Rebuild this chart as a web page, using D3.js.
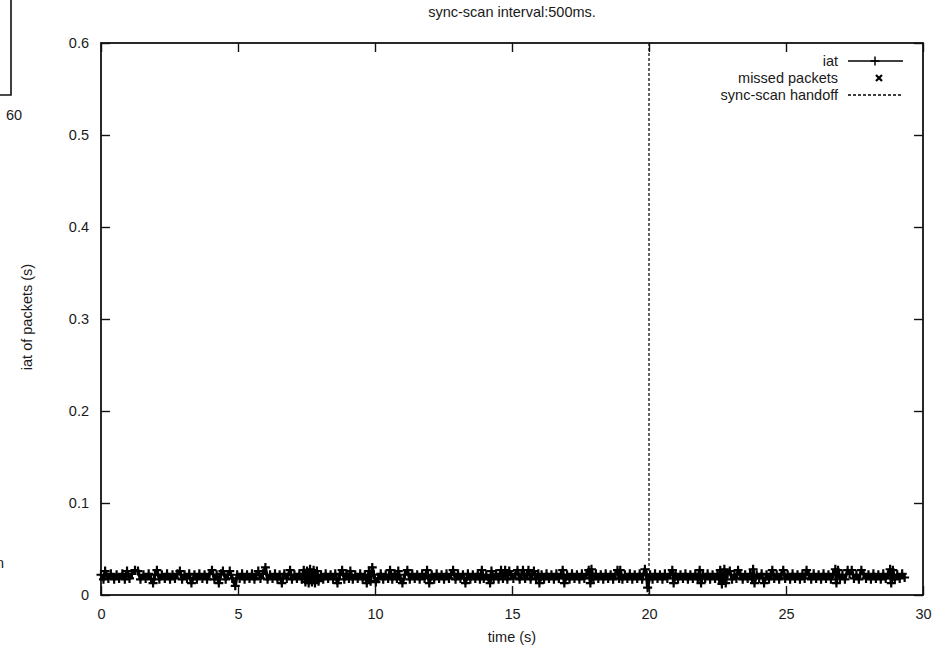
<!DOCTYPE html>
<html>
<head>
<meta charset="utf-8">
<script src="https://cdn.jsdelivr.net/npm/d3@7/dist/d3.min.js"></script>
<style>
  body { margin: 0; background: #fff; }
  text { font-family: "Liberation Sans", Arial, sans-serif; fill: #1a1a1a; }
</style>
</head>
<body>
<div id="chart"></div>
<script>
// packet arrival times (s) and inter-arrival times (ms)
const times = [
  0, 0.09, 0.15, 0.27, 0.36, 0.48, 0.57, 0.66, 0.78, 0.87, 0.95,
  1.04, 1.13, 1.24, 1.35, 1.44, 1.55, 1.63, 1.74, 1.83, 1.90, 1.97,
  2.04, 2.13, 2.22, 2.33, 2.41, 2.52, 2.61, 2.70, 2.79, 2.88, 2.96,
  3.05, 3.14, 3.22, 3.30, 3.41, 3.50, 3.59, 3.70, 3.78, 3.87, 3.96,
  4.05, 4.14, 4.22, 4.30, 4.38, 4.45, 4.55, 4.63, 4.70, 4.79, 4.90, 4.97,
  5.06, 5.15, 5.24, 5.33, 5.42, 5.51, 5.60, 5.67, 5.74, 5.82, 5.91,
  6.00, 6.08, 6.17, 6.26, 6.35, 6.44, 6.52, 6.60, 6.69, 6.78, 6.90, 6.97,
  7.06, 7.15, 7.24, 7.33, 7.40, 7.46, 7.52, 7.58, 7.63, 7.70, 7.76, 7.81, 7.88, 7.94,
  8.03, 8.11, 8.20, 8.29, 8.38, 8.47, 8.55, 8.63, 8.72, 8.80, 8.88, 8.96,
  9.05, 9.10, 9.19, 9.28, 9.37, 9.46, 9.55, 9.63, 9.70, 9.78, 9.84, 9.90, 9.96,
  10.03, 10.12, 10.21, 10.30, 10.39, 10.48, 10.55, 10.63, 10.72, 10.80, 10.85, 10.93,
  11.00, 11.09, 11.18, 11.27, 11.36, 11.45, 11.54, 11.63, 11.72, 11.81, 11.90, 11.98,
  12.07, 12.16, 12.25, 12.34, 12.43, 12.52, 12.61, 12.70, 12.78, 12.85, 12.94,
  13.03, 13.12, 13.21, 13.30, 13.39, 13.48, 13.57, 13.66, 13.75, 13.83, 13.90, 13.97,
  14.06, 14.15, 14.20, 14.25, 14.33, 14.42, 14.51, 14.60, 14.67, 14.75, 14.83, 14.90, 14.97,
  15.05, 15.13, 15.20, 15.28, 15.35, 15.40, 15.48, 15.55, 15.60, 15.68, 15.74, 15.80, 15.88, 15.96,
  16.00, 16.08, 16.17, 16.26, 16.35, 16.44, 16.53, 16.62, 16.71, 16.79, 16.85, 16.91,
  17.01, 17.10, 17.19, 17.28, 17.37, 17.46, 17.55, 17.64, 17.72, 17.80, 17.86, 17.90, 17.97,
  18.06, 18.15, 18.24, 18.33, 18.42, 18.51, 18.60, 18.69, 18.78, 18.85, 18.91, 18.95,
  19.03, 19.12, 19.21, 19.30, 19.39, 19.48, 19.57, 19.66, 19.75, 19.85, 19.91, 19.95,
  20.04, 20.13, 20.22, 20.31, 20.40, 20.49, 20.58, 20.67, 20.76, 20.85, 20.90, 20.97,
  21.06, 21.15, 21.24, 21.33, 21.42, 21.51, 21.60, 21.69, 21.78, 21.85, 21.90, 21.97,
  22.05, 22.14, 22.23, 22.32, 22.41, 22.50, 22.56, 22.60, 22.66, 22.72, 22.75, 22.80, 22.86, 22.95,
  23.03, 23.12, 23.19, 23.25, 23.33, 23.42, 23.51, 23.60, 23.69, 23.76, 23.80, 23.85, 23.93,
  24.02, 24.11, 24.20, 24.29, 24.38, 24.45, 24.50, 24.57, 24.66, 24.75, 24.84, 24.90, 24.97,
  25.06, 25.15, 25.24, 25.33, 25.42, 25.51, 25.60, 25.68, 25.75, 25.83, 25.92,
  26.01, 26.10, 26.19, 26.28, 26.37, 26.46, 26.55, 26.64, 26.72, 26.80, 26.84, 26.90, 26.97,
  27.06, 27.15, 27.25, 27.32, 27.40, 27.48, 27.57, 27.66, 27.75, 27.83, 27.92,
  28.01, 28.10, 28.19, 28.28, 28.37, 28.46, 28.55, 28.64, 28.72, 28.80, 28.84, 28.90, 28.97,
  29.06, 29.15, 29.24, 29.33
];

const iatMs = [
  22, 17, 26, 18, 23, 17, 22, 18, 23, 17, 26,
  18, 23, 27, 26, 17, 22, 18, 23, 17, 13, 22,
  27, 17, 22, 18, 23, 17, 22, 18, 23, 26, 17,
  22, 18, 23, 13, 22, 17, 23, 18, 22, 17, 23,
  27, 17, 22, 13, 23, 26, 17, 22, 26, 18, 10, 22,
  18, 23, 17, 22, 18, 23, 17, 22, 26, 18, 23,
  30, 17, 22, 18, 23, 17, 22, 13, 23, 18, 27, 17,
  22, 18, 23, 17, 27, 14, 26, 13, 28, 14, 27, 13, 26, 15,
  22, 17, 23, 18, 22, 17, 23, 13, 22, 27, 17, 23,
  18, 26, 17, 22, 18, 23, 17, 22, 13, 26, 15, 30, 22,
  14, 18, 23, 17, 22, 18, 27, 17, 23, 18, 26, 17,
  13, 22, 27, 17, 23, 18, 22, 17, 23, 18, 27, 13,
  22, 17, 23, 18, 22, 17, 23, 18, 22, 27, 17,
  23, 18, 22, 13, 23, 17, 22, 18, 23, 17, 27, 18,
  22, 17, 13, 26, 18, 23, 17, 27, 18, 27, 17, 26, 22,
  18, 23, 27, 17, 22, 27, 18, 23, 27, 17, 22, 26, 18, 23,
  13, 22, 17, 23, 18, 22, 17, 23, 18, 22, 27, 13,
  22, 17, 23, 18, 22, 17, 23, 18, 22, 27, 13, 28, 17,
  23, 18, 22, 17, 23, 18, 22, 17, 23, 27, 18, 27,
  17, 22, 18, 23, 17, 22, 18, 23, 17, 28, 22, 8,
  22, 17, 23, 18, 22, 17, 23, 18, 22, 27, 13, 23,
  17, 22, 18, 23, 17, 22, 18, 23, 17, 27, 13, 22,
  18, 23, 17, 22, 18, 23, 17, 27, 12, 22, 28, 13, 23, 26,
  17, 22, 18, 27, 23, 17, 22, 18, 23, 17, 28, 13, 22,
  18, 23, 13, 22, 17, 23, 27, 18, 22, 17, 23, 27, 18,
  22, 17, 23, 18, 22, 17, 23, 18, 27, 22, 17,
  23, 18, 22, 17, 23, 18, 22, 17, 23, 28, 13, 27, 18,
  22, 17, 27, 23, 27, 18, 22, 17, 27, 23, 18,
  22, 17, 23, 18, 22, 17, 23, 18, 22, 28, 13, 27, 17,
  22, 18, 23, 19
];

const handoffTimes = [20];
const xTicks = [0, 5, 10, 15, 20, 25, 30];
const yTicks = [0, 0.1, 0.2, 0.3, 0.4, 0.5, 0.6];
const legendItems = ['iat', 'missed packets', 'sync-scan handoff'];

const width = 947, height = 652;
const margin = {top: 43, right: 24, bottom: 57, left: 101};
const innerWidth = width - margin.left - margin.right,
      innerHeight = height - margin.top - margin.bottom;

const data = times.map((t, i) => ({x: t, y: iatMs[i] / 1000}));

const fontSize = '14.5px';

const svg = d3.select('#chart').append('svg')
    .attr('width', width)
    .attr('height', height);

// ###
// LEFTOVERS OF THE NEIGHBOURING FIGURE
// ###
svg.append('path')
    .attr('d', 'M11,0V95H0')
    .attr('fill', 'none')
    .attr('stroke', '#111')
    .attr('stroke-width', 1.6);
svg.append('text').attr('x', 14).attr('y', 120).attr('text-anchor', 'middle')
    .style('font-size', fontSize).text('60');
svg.append('text').attr('x', -4).attr('y', 568)
    .style('font-size', fontSize).text('n');

// ###
// SCALES, AXES
// ###
const x = d3.scaleLinear().domain([0, 30]).range([0, innerWidth]);
const y = d3.scaleLinear().domain([0, 0.6]).range([innerHeight, 0]);

const g = svg.append('g')
    .attr('transform', `translate(${margin.left}, ${margin.top})`);

const tickLen = 9;

const styleAxis = sel => {
  sel.select('.domain').remove();
  sel.selectAll('.tick line').attr('stroke', '#111').attr('stroke-width', 1.4);
  sel.selectAll('.tick text')
      .style('font-size', fontSize)
      .style('font-family', '"Liberation Sans", Arial, sans-serif')
      .attr('fill', '#1a1a1a');
};

// mirrored ticks carry no labels
const noLabels = sel => sel.selectAll('.tick text').remove();

g.append('g')
    .attr('transform', `translate(0, ${innerHeight})`)
    .call(d3.axisBottom(x).tickValues(xTicks).tickFormat(d3.format('d'))
      .tickSizeInner(-tickLen).tickSizeOuter(0).tickPadding(14))
    .call(styleAxis);

g.append('g')
    .call(d3.axisTop(x).tickValues(xTicks)
      .tickSizeInner(-tickLen).tickSizeOuter(0))
    .call(styleAxis)
    .call(noLabels);

g.append('g')
    .call(d3.axisLeft(y).tickValues(yTicks).tickFormat(d => d === 0 ? '0' : d3.format('.1f')(d))
      .tickSizeInner(-tickLen).tickSizeOuter(0).tickPadding(12))
    .call(styleAxis);

g.append('g')
    .attr('transform', `translate(${innerWidth}, 0)`)
    .call(d3.axisRight(y).tickValues(yTicks)
      .tickSizeInner(-tickLen).tickSizeOuter(0))
    .call(styleAxis)
    .call(noLabels);

// frame
g.append('rect')
    .attr('width', innerWidth)
    .attr('height', innerHeight)
    .attr('fill', 'none')
    .attr('stroke', '#111')
    .attr('stroke-width', 1.8);

// ###
// HANDOFF LINE
// ###
g.selectAll('.handoff')
  .data(handoffTimes)
  .join('line')
    .attr('class', 'handoff')
    .attr('x1', d => x(d)).attr('x2', d => x(d))
    .attr('y1', 0).attr('y2', innerHeight)
    .attr('stroke', '#111')
    .attr('stroke-width', 1.3)
    .attr('stroke-dasharray', '3,2');

// ###
// IAT LINE + POINTS
// ###
const line = d3.line()
    .x(d => x(d.x))
    .y(d => y(d.y));

g.append('path')
    .datum(data)
    .attr('d', line)
    .attr('fill', 'none')
    .attr('stroke', '#000')
    .attr('stroke-width', 3.2)
    .attr('stroke-linejoin', 'round');

const cross = 4.5;
g.selectAll('.pt')
  .data(data)
  .join('path')
    .attr('class', 'pt')
    .attr('d', d => `M${x(d.x) - cross},${y(d.y)}h${2 * cross}M${x(d.x)},${y(d.y) - cross}v${2 * cross}`)
    .attr('stroke', '#000')
    .attr('stroke-width', 2.2);

// ###
// TITLE, LABELS
// ###
svg.append('text')
    .attr('x', margin.left + innerWidth / 2)
    .attr('y', 17)
    .attr('text-anchor', 'middle')
    .style('font-size', fontSize)
    .text('sync-scan interval:500ms.');

svg.append('text')
    .attr('x', margin.left + innerWidth / 2)
    .attr('y', 642)
    .attr('text-anchor', 'middle')
    .style('font-size', fontSize)
    .text('time (s)');

svg.append('text')
    .attr('transform', `translate(32, ${margin.top + innerHeight / 2 - 2}) rotate(-90)`)
    .attr('text-anchor', 'middle')
    .style('font-size', fontSize)
    .text('iat of packets (s)');

// ###
// LEGEND
// ###
const legend = svg.append('g').attr('transform', 'translate(838, 61)');
const rowH = 17;

legend.selectAll('text')
  .data(legendItems)
  .join('text')
    .attr('x', 0)
    .attr('y', (d, i) => i * rowH + 5)
    .attr('text-anchor', 'end')
    .style('font-size', fontSize)
    .text(d => d);

legend.append('line')
    .attr('x1', 10).attr('x2', 65).attr('y1', 0).attr('y2', 0)
    .attr('stroke', '#000').attr('stroke-width', 1.5);
legend.append('path')
    .attr('d', `M${37 - cross},0h${2 * cross}M37,${-cross}v${2 * cross}`)
    .attr('stroke', '#000').attr('stroke-width', 1.5);
legend.append('path')
    .attr('d', `M38,${rowH - 3}l6,6M44,${rowH - 3}l-6,6`)
    .attr('stroke', '#000').attr('stroke-width', 2.2);
legend.append('line')
    .attr('x1', 10).attr('x2', 63).attr('y1', 2 * rowH).attr('y2', 2 * rowH)
    .attr('stroke', '#000').attr('stroke-width', 1.3)
    .attr('stroke-dasharray', '3,2');
</script>
</body>
</html>
